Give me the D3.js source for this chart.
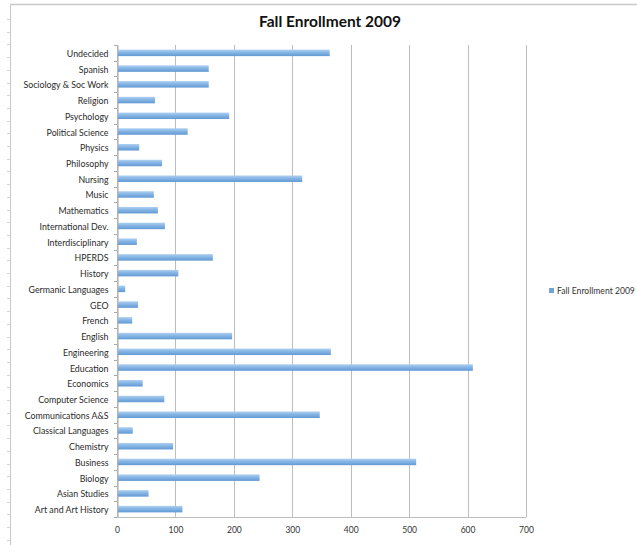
<!DOCTYPE html>
<html>
<head>
<meta charset="utf-8">
<script src="https://cdn.jsdelivr.net/npm/d3@7"></script>
<style>
  html, body { margin: 0; padding: 0; background: #fff; }
  svg { display: block; }
</style>
</head>
<body>
<div id="chart"></div>
<script>
// Fall 2009 enrollment by program (listed top to bottom)
const categories = [
  "Undecided", "Spanish", "Sociology & Soc Work", "Religion", "Psychology",
  "Political Science", "Physics", "Philosophy", "Nursing", "Music",
  "Mathematics", "International Dev.", "Interdisciplinary", "HPERDS", "History",
  "Germanic Languages", "GEO", "French", "English", "Engineering",
  "Education", "Economics", "Computer Science", "Communications A&S", "Classical Languages",
  "Chemistry", "Business", "Biology", "Asian Studies", "Art and Art History"
];
const enrollment = [
  364, 157, 157, 65, 192,
  121, 38, 77, 317, 63,
  70, 82, 34, 164, 105,
  14, 36, 26, 197, 366,
  609, 44, 81, 347, 27,
  96, 512, 244, 54, 112
];
const xTicks = [0, 100, 200, 300, 400, 500, 600, 700];
const seriesName = "Fall Enrollment 2009";
const chartTitle = "Fall Enrollment 2009";

const W = 637, H = 545;
const plot = { left: 117, right: 526, top: 45, bottom: 517 };

const svg = d3.select("#chart").append("svg")
  .attr("width", W).attr("height", H);

const defs = svg.append("defs");
const grad = defs.append("linearGradient")
  .attr("id", "barFill").attr("x1", 0).attr("y1", 0).attr("x2", 0).attr("y2", 1);
grad.append("stop").attr("offset", "0%").attr("stop-color", "#afd0f0");
grad.append("stop").attr("offset", "45%").attr("stop-color", "#85b5e5");
grad.append("stop").attr("offset", "100%").attr("stop-color", "#6299d3");
const soft = defs.append("filter").attr("id", "soft")
  .attr("x", "-5%").attr("y", "-60%").attr("width", "110%").attr("height", "220%");
soft.append("feGaussianBlur").attr("stdDeviation", 0.45);

// sheet frame
const frame = svg.append("g").attr("stroke", "#c8c8c8").attr("fill", "none");
frame.append("line").attr("x1", 10.5).attr("x2", W).attr("y1", 4.5).attr("y2", 4.5)
  .attr("stroke-width", 1.5);
frame.append("line").attr("x1", 10.5).attr("x2", 10.5).attr("y1", 4).attr("y2", H);
d3.range(19, H, 12.7).forEach(y => {
  frame.append("line").attr("x1", 7).attr("x2", 10).attr("y1", Math.round(y) + 0.5).attr("y2", Math.round(y) + 0.5)
    .attr("stroke", "#d4d4d4");
});

const x = d3.scaleLinear().domain([0, 700]).range([plot.left, plot.right]);
const y = d3.scaleBand().domain(categories).range([plot.top, plot.bottom]).padding(0);

// vertical gridlines
svg.append("g")
  .selectAll("line").data(xTicks).join("line")
  .attr("x1", d => Math.round(x(d)) + 0.5).attr("x2", d => Math.round(x(d)) + 0.5)
  .attr("y1", plot.top).attr("y2", plot.bottom)
  .attr("stroke", "#bdbdbd").attr("stroke-width", 1);

// bottom axis with labels
const xAxis = svg.append("g")
  .attr("transform", `translate(0,${plot.bottom})`)
  .call(d3.axisBottom(x).tickValues(xTicks).tickSize(0).tickPadding(10));
xAxis.select(".domain").attr("stroke", "#bdbdbd").attr("d", `M${plot.left},0.5H${plot.right}`);
xAxis.selectAll("text")
  .attr("font-family", "Lato, 'Open Sans', sans-serif").attr("font-size", 8.5).attr("fill", "#333");

// category axis
const yAxis = svg.append("g")
  .attr("transform", `translate(${plot.left + 0.5},0)`)
  .call(d3.axisLeft(y).tickSize(0).tickPadding(9));
yAxis.select(".domain").attr("stroke", "#a8a8a8");
yAxis.selectAll("text")
  .attr("dy", "0.45em")
  .attr("font-family", "Lato, 'Open Sans', sans-serif").attr("font-size", 8.8).attr("fill", "#2a2a2a");
// tick marks at category boundaries
svg.append("g").selectAll("line")
  .data(categories.map(c => y(c)).concat([plot.bottom]))
  .join("line")
  .attr("x1", plot.left - 3).attr("x2", plot.left)
  .attr("y1", d => Math.round(d) + 0.5).attr("y2", d => Math.round(d) + 0.5)
  .attr("stroke", "#a8a8a8");

// bars
const barH = 6.5;
svg.append("g").attr("filter", "url(#soft)")
  .selectAll("rect").data(categories).join("rect")
  .attr("x", x(0) + 1)
  .attr("y", d => y(d) + y.bandwidth() / 2 - barH / 2)
  .attr("width", (d, i) => x(enrollment[i]) - x(0) - 1)
  .attr("height", barH)
  .attr("fill", "url(#barFill)");

// title
svg.append("text")
  .attr("x", 330).attr("y", 27)
  .attr("text-anchor", "middle")
  .attr("font-family", "Lato, 'Open Sans', sans-serif")
  .attr("font-weight", "bold").attr("font-size", 15.5).attr("fill", "#111")
  .text(chartTitle);

// legend
const legend = svg.append("g").attr("transform", "translate(549,288)");
legend.append("rect").attr("width", 5).attr("height", 5).attr("fill", "#6fa3dc");
legend.append("text").attr("x", 8).attr("y", 5.5)
  .attr("font-family", "Lato, 'Open Sans', sans-serif").attr("font-size", 8.6).attr("fill", "#333")
  .text(seriesName);
</script>
</body>
</html>
